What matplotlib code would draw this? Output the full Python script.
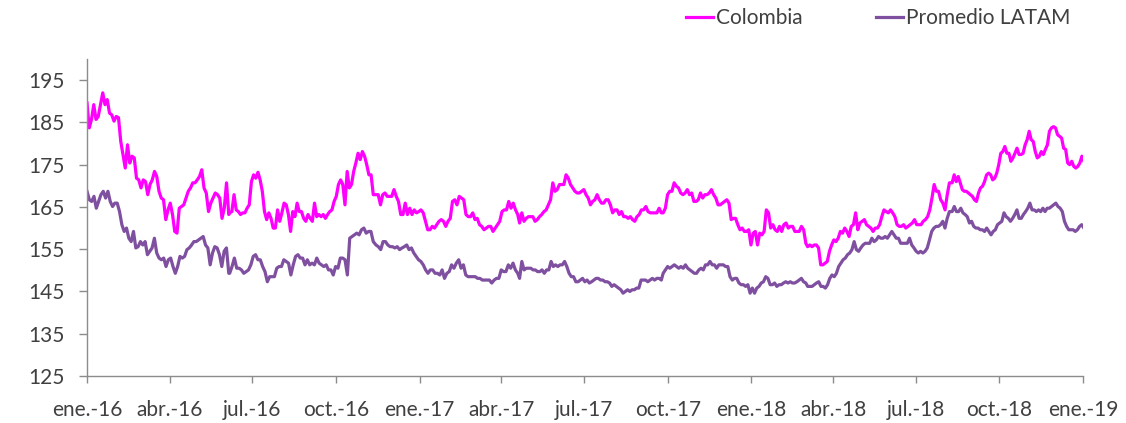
"""
Índice Colombia vs. promedio LATAM, ene.-16 a ene.-19 (serie diaria leída del gráfico).
"""

import matplotlib

matplotlib.use("Agg")
import matplotlib.pyplot as plt
import pandas as pd

# ---------- datos: tramos consecutivos (valores leídos a ojo) ----------
SEG_DATES = [
    ("2016-01-01", "2016-06-05"),
    ("2016-06-06", "2016-11-11"),
    ("2016-11-14", "2017-04-19"),
    ("2017-04-21", "2017-09-24"),
    ("2017-09-26", "2018-03-02"),
    ("2018-03-04", "2018-08-07"),
    ("2018-08-10", "2019-01-02"),
]

COL_A = [189.6, 183.7, 185.7, 189.2, 185.7, 186.4, 189.2, 192.0, 189.2, 190.4, 187.2, 186.8, 185.3,
         186.4, 186.1, 180.5, 177.4, 174.2, 179.7, 175.4, 177.0, 176.6, 171.8, 171.4, 169.5, 171.4,
         171.0, 167.9, 170.3, 171.4, 173.4, 172.2, 168.7, 167.1, 166.7, 162.0, 164.3, 165.9, 163.2,
         159.2, 158.8, 164.7, 165.1, 165.5, 167.1, 168.7, 169.5, 170.7, 170.7, 171.4, 172.2, 173.8,
         169.5, 168.3, 163.9, 165.9, 167.1, 168.3, 167.9, 167.1, 162.3, 164.7, 170.7, 163.2]
COL_B = [163.6, 163.9, 167.9, 164.3, 163.9, 163.2, 163.6, 163.6, 164.7, 165.5, 171.0, 172.6, 171.8,
         173.2, 171.4, 168.7, 163.9, 162.0, 163.6, 162.3, 160.0, 160.0, 164.3, 161.6, 163.6, 165.9,
         165.5, 163.2, 159.2, 163.9, 162.7, 165.9, 163.9, 163.9, 162.3, 161.6, 163.2, 162.3, 161.6,
         165.9, 162.7, 163.2, 162.7, 163.2, 162.3, 163.2, 163.9, 164.3, 166.3, 167.5, 170.3, 171.4,
         170.3, 165.5, 173.4, 169.5, 170.3, 173.4, 175.4, 177.7, 176.2, 178.1, 177.0, 175.0, 172.6,
         172.6, 167.9]
COL_C = [167.9, 167.9, 165.5, 167.9, 168.3, 167.5, 167.5, 167.5, 169.1, 167.5, 166.3, 163.2, 163.2,
         165.9, 163.2, 164.7, 163.2, 164.3, 163.6, 163.9, 164.3, 163.6, 161.6, 159.6, 159.6, 160.4,
         160.0, 160.8, 161.6, 162.0, 161.6, 160.4, 161.6, 162.3, 166.3, 166.7, 165.5, 167.5, 167.1,
         166.7, 163.2, 162.7, 162.7, 163.6, 162.0, 162.3, 160.8, 160.4, 159.6, 160.0, 160.4, 160.4,
         159.2, 160.0, 160.8, 161.6, 163.9, 164.3, 164.3, 166.3, 164.7, 165.9, 164.3, 163.2]
COL_D = [161.2, 163.6, 161.6, 162.3, 162.7, 162.7, 162.7, 161.6, 162.0, 162.7, 163.2, 163.9, 164.3,
         165.5, 166.7, 170.7, 168.7, 169.1, 170.3, 170.3, 170.3, 172.6, 171.8, 170.3, 169.5, 168.7,
         168.3, 168.3, 168.7, 169.1, 167.9, 167.1, 165.5, 166.3, 166.7, 167.9, 166.7, 165.9, 165.9,
         166.7, 166.7, 165.5, 163.6, 164.3, 164.3, 163.2, 163.9, 162.7, 162.7, 162.3, 162.7, 162.0,
         161.6, 162.7, 163.2, 164.3, 164.3, 165.1, 163.9, 163.6, 163.6, 163.6, 163.6, 164.7, 163.6]
COL_E = [163.6, 164.7, 167.9, 168.7, 168.7, 170.7, 169.9, 169.5, 168.3, 167.9, 168.3, 169.1, 167.9,
         168.3, 166.3, 166.3, 166.7, 168.3, 167.1, 167.9, 167.9, 168.3, 169.1, 167.9, 167.1, 165.5,
         165.5, 165.9, 166.3, 166.7, 165.9, 162.0, 162.3, 162.3, 160.8, 159.6, 160.0, 159.2, 159.2,
         159.6, 156.0, 158.8, 159.2, 156.0, 158.8, 158.4, 159.2, 164.3, 163.6, 160.0, 160.8, 159.6,
         159.2, 160.4, 159.2, 160.8, 161.2, 160.0, 160.4, 160.4, 159.2, 159.2, 159.2, 160.4, 159.6,
         156.4]
COL_F = [155.6, 156.0, 155.6, 156.0, 156.0, 155.3, 151.3, 151.3, 151.7, 152.1, 154.5, 156.0, 157.2,
         156.8, 157.6, 159.2, 158.8, 160.0, 159.2, 158.0, 160.4, 160.8, 163.6, 159.6, 161.2, 161.6,
         162.0, 160.8, 160.4, 160.0, 159.2, 160.0, 160.0, 160.8, 162.7, 164.3, 163.9, 163.6, 164.3,
         163.6, 162.7, 160.8, 160.4, 160.4, 160.8, 160.0, 160.4, 160.8, 161.2, 162.0, 160.8, 160.8,
         160.8, 161.6, 162.0, 162.7, 164.3, 167.1, 170.3, 168.7, 168.7, 166.7, 165.9, 164.3, 167.9,
         170.7]
COL_G = [170.7, 172.6, 171.0, 172.2, 170.7, 169.1, 168.7, 168.7, 168.3, 167.9, 167.5, 166.7, 166.3,
         168.3, 169.5, 169.9, 171.0, 172.6, 173.0, 172.6, 171.4, 171.8, 173.0, 175.0, 177.7, 178.1,
         179.3, 177.7, 177.7, 175.8, 176.6, 177.7, 178.9, 177.4, 177.4, 177.7, 179.7, 180.9, 182.9,
         180.9, 180.5, 178.1, 176.6, 177.0, 178.1, 177.4, 178.6, 179.7, 182.9, 183.7, 184.0, 183.7,
         182.1, 181.7, 181.3, 178.9, 178.6, 175.4, 175.0, 175.8, 174.6, 174.2, 174.6, 175.4, 177.0,
         175.8]

PUR_A = [168.7, 166.7, 166.3, 167.5, 164.7, 166.3, 167.9, 168.7, 167.1, 168.7, 166.3, 165.1, 165.9,
         165.9, 163.9, 160.8, 159.2, 160.0, 157.6, 156.8, 159.2, 155.3, 155.6, 156.8, 156.0, 156.8,
         153.7, 154.5, 155.3, 157.6, 154.1, 152.9, 152.5, 152.9, 150.9, 152.5, 152.9, 150.9, 149.3,
         150.9, 153.3, 152.9, 153.3, 154.9, 155.3, 156.0, 156.8, 156.8, 157.2, 157.6, 158.0, 156.0,
         155.3, 151.3, 154.1, 155.6, 155.3, 153.7, 150.9, 154.5, 155.3, 149.3]
PUR_B = [149.3, 150.9, 152.9, 150.5, 150.5, 150.1, 149.3, 149.7, 150.1, 151.3, 153.3, 153.7, 152.5,
         152.5, 150.9, 149.7, 147.3, 148.5, 148.5, 148.5, 150.5, 150.9, 150.9, 152.5, 152.1, 151.7,
         148.9, 151.3, 153.3, 153.7, 152.9, 152.9, 151.3, 152.5, 151.3, 151.7, 151.3, 152.9, 151.7,
         151.3, 150.9, 151.3, 150.1, 150.1, 148.9, 150.9, 150.5, 152.9, 152.9, 152.5, 148.9, 157.6,
         158.0, 158.4, 158.8, 158.4, 159.6, 160.0, 158.8, 159.2, 159.2, 156.8]
PUR_C = [156.0, 155.6, 154.9, 156.8, 156.8, 156.0, 155.6, 155.6, 155.3, 155.6, 154.9, 155.3, 155.6,
         156.0, 154.9, 155.3, 154.1, 153.3, 152.5, 152.1, 151.3, 150.1, 149.3, 150.1, 150.1, 149.3,
         149.3, 148.9, 150.1, 148.1, 149.3, 149.7, 151.3, 150.5, 151.7, 152.5, 150.5, 151.3, 148.9,
         148.5, 148.5, 148.5, 148.5, 148.1, 148.1, 147.7, 147.7, 147.7, 147.7, 147.0, 147.7, 148.1,
         148.1, 150.1, 149.7, 149.7, 151.3, 150.5, 151.7, 150.1, 149.3]
PUR_D = [148.1, 152.1, 150.1, 150.5, 150.5, 150.5, 150.1, 150.1, 149.7, 149.7, 150.1, 149.3, 150.1,
         150.1, 152.1, 150.9, 151.3, 150.9, 151.3, 151.3, 152.1, 150.9, 149.3, 148.5, 148.5, 147.3,
         147.3, 147.7, 148.1, 147.3, 147.7, 147.0, 147.3, 147.7, 148.1, 148.1, 147.7, 147.7, 147.3,
         147.3, 147.0, 146.2, 146.6, 146.2, 145.8, 145.4, 144.6, 145.0, 145.4, 145.0, 145.4, 145.4,
         145.8, 145.8, 147.7, 147.7, 147.7, 147.3, 147.7, 148.1, 147.7, 148.1, 148.1, 147.7]
PUR_E = [149.3, 150.1, 150.9, 150.5, 150.9, 151.3, 150.9, 150.5, 150.9, 150.5, 151.3, 150.5, 150.1,
         149.7, 149.3, 149.3, 150.1, 150.5, 150.1, 151.3, 151.3, 152.1, 151.3, 151.3, 150.5, 151.3,
         151.3, 151.3, 150.9, 150.9, 148.5, 147.7, 148.1, 148.1, 147.0, 146.6, 146.6, 146.2, 146.6,
         144.6, 145.8, 144.6, 145.8, 146.2, 147.0, 147.3, 148.5, 148.1, 146.6, 146.6, 147.0, 146.2,
         146.6, 146.6, 147.0, 147.3, 147.0, 147.3, 147.0, 147.0, 147.3, 147.7, 148.1, 147.3, 147.0]
PUR_F = [146.2, 146.2, 146.2, 146.6, 147.0, 147.3, 146.2, 146.2, 145.8, 146.6, 148.1, 148.9, 148.5,
         149.3, 150.9, 151.7, 152.5, 152.9, 153.7, 154.1, 154.9, 156.8, 154.9, 154.5, 155.3, 156.0,
         156.4, 156.4, 156.4, 157.6, 156.8, 157.2, 158.0, 157.6, 157.6, 158.0, 157.6, 158.4, 159.2,
         158.4, 157.6, 157.6, 156.4, 156.4, 156.4, 156.4, 157.6, 156.0, 155.3, 154.5, 154.1, 154.5,
         154.1, 154.5, 155.3, 157.2, 159.2, 160.0, 160.4, 160.4, 160.8, 161.6, 160.0, 162.3, 163.9]
PUR_G = [163.9, 165.1, 163.9, 163.9, 164.7, 163.6, 163.2, 162.7, 161.2, 161.6, 160.4, 160.0, 160.0,
         159.6, 159.6, 159.2, 160.0, 159.2, 158.4, 159.2, 159.6, 160.8, 161.2, 161.6, 163.6, 162.7,
         162.3, 161.6, 162.3, 163.2, 164.3, 162.3, 162.3, 163.2, 163.9, 164.7, 165.9, 164.3, 164.3,
         163.9, 164.3, 163.9, 164.7, 163.9, 164.7, 164.7, 165.1, 165.5, 165.9, 165.1, 164.7, 163.9,
         161.6, 160.4, 159.6, 159.6, 159.6, 159.2, 159.6, 160.4, 160.8, 160.0]

COL_SEGS = [COL_A, COL_B, COL_C, COL_D, COL_E, COL_F, COL_G]
PUR_SEGS = [PUR_A, PUR_B, PUR_C, PUR_D, PUR_E, PUR_F, PUR_G]

X_TICKS = ["2016-01-01", "2016-04-01", "2016-07-01", "2016-10-01", "2017-01-01", "2017-04-01",
           "2017-07-01", "2017-10-01", "2018-01-01", "2018-04-01", "2018-07-01", "2018-10-01",
           "2019-01-01"]
X_LABELS = ["ene.-16", "abr.-16", "jul.-16", "oct.-16", "ene.-17", "abr.-17", "jul.-17",
            "oct.-17", "ene.-18", "abr.-18", "jul.-18", "oct.-18", "ene.-19"]
Y_TICKS = [125, 135, 145, 155, 165, 175, 185, 195]

# ---------- estilo ----------
COL_COLOR = "#FF00FF"
PUR_COLOR = "#8050A0"
AXIS_GRAY = "#8C8C8C"
TEXT_GRAY = "#404040"
FS = 15
LW = 2.3


def _series(segs):
    parts = []
    for (start, end), vals in zip(SEG_DATES, segs):
        idx = pd.date_range(start, end, periods=len(vals))
        parts.append(pd.Series(vals, index=idx))
    return pd.concat(parts)


def main() -> None:
    plt.rcParams["font.family"] = ["Lato", "DejaVu Sans"]
    col = _series(COL_SEGS)
    pur = _series(PUR_SEGS)

    fig = plt.figure(figsize=(11.26, 4.23), dpi=100)
    ax = fig.add_axes([87 / 1126, 1 - 376 / 423, 996 / 1126, (376 - 59) / 423])

    ax.plot(col.index, col.values, color=COL_COLOR, lw=LW, label="Colombia")
    ax.plot(pur.index, pur.values, color=PUR_COLOR, lw=LW, label="Promedio LATAM")

    ax.set_xlim(pd.Timestamp("2016-01-01"), pd.Timestamp("2019-01-01"))
    ax.set_ylim(125, 200)
    ax.set_xticks(pd.to_datetime(X_TICKS))
    ax.set_xticklabels(X_LABELS)
    ax.set_yticks(Y_TICKS)

    for side in ("top", "right"):
        ax.spines[side].set_visible(False)
    for side in ("left", "bottom"):
        ax.spines[side].set_color(AXIS_GRAY)
        ax.spines[side].set_linewidth(1.0)
    ax.tick_params(axis="y", length=6, width=1.0, color=AXIS_GRAY, pad=10,
                   labelsize=FS, labelcolor=TEXT_GRAY)
    ax.tick_params(axis="x", length=5, width=1.0, color=AXIS_GRAY, pad=12,
                   labelsize=FS, labelcolor=TEXT_GRAY)

    fig.legend(loc="center left", bbox_to_anchor=(686 / 1126, 1 - 18 / 423), ncol=2,
               frameon=False, fontsize=FS, labelcolor=TEXT_GRAY, handlelength=1.3,
               handletextpad=0.15, columnspacing=3.5, borderpad=0, borderaxespad=0)

    fig.savefig("out.png", dpi=100)
    plt.close(fig)


if __name__ == "__main__":
    main()
